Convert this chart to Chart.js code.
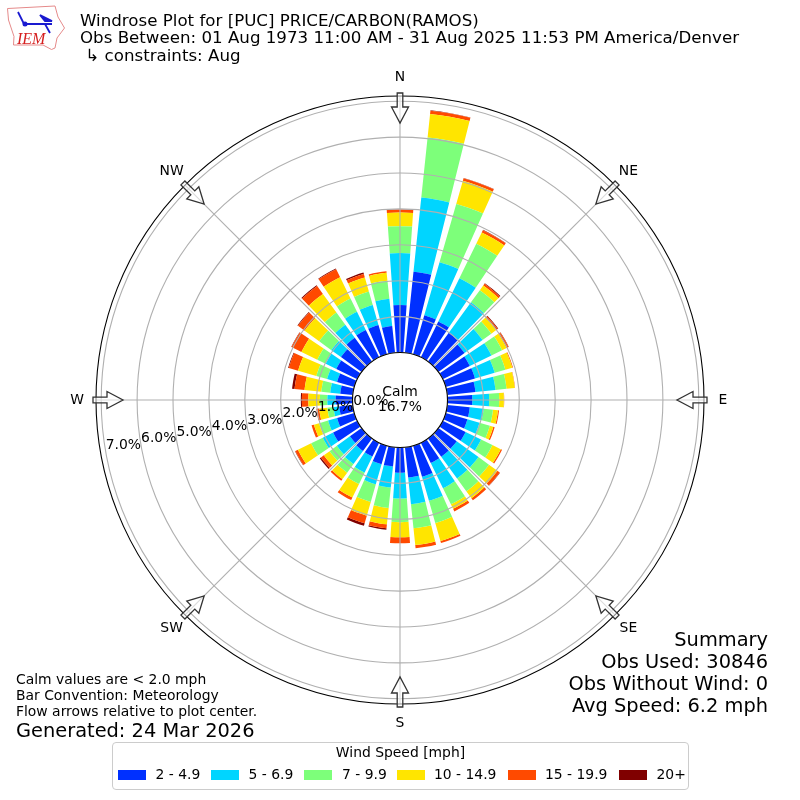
<!DOCTYPE html>
<html lang="en">
<head>
  <meta charset="UTF-8" />
  <title>Windrose Plot for [PUC] PRICE/CARBON(RAMOS)</title>
  <style>
    html, body {
      margin: 0;
      padding: 0;
      background: #fff;
    }
    body {
      position: relative;
      width: 800px;
      height: 800px;
      overflow: hidden;
      font-family: "DejaVu Sans", sans-serif;
      color: #000;
    }
    canvas {
      position: absolute;
      left: 0;
      top: 0;
    }
    .txt {
      position: absolute;
      white-space: pre;
      line-height: 1;
    }
    #logo {
      position: absolute;
      left: 0;
      top: 0;
    }
    #legend {
      position: absolute;
      left: 112px;
      top: 742px;
      width: 575px;
      height: 46px;
      border: 1px solid #ccc;
      border-radius: 4px;
      background: #fff;
    }
    #legend span {
      position: absolute;
      white-space: pre;
      line-height: 1;
    }
  </style>
</head>
<body>
  <canvas id="rose" width="800" height="800"></canvas>

  <svg id="logo" width="70" height="55" viewBox="0 0 70 55">
    <path d="M7.5 8.5 L55 6 L58 17 L64.5 28 L57 38 L55 48 L51.5 49.5 L43 45 L13.5 45 L14 36.5 L8.5 20 Z" fill="none" stroke="#e58a8a" stroke-width="1"/>
    <path d="M25 24 H52 M40 15 L52 21 L45 21 Z M18 12 L24 24 M45 24 L50 33" stroke="#1a1ad0" stroke-width="1.8" fill="#1a1ad0"/>
    <circle cx="25" cy="24" r="2.5" fill="#1a1ad0"/>
    <text x="17" y="44" font-family="Liberation Serif" font-style="italic" font-size="16" fill="#d62020">IEM</text>
  </svg>

  <div class="txt" style="left:80px;top:13px;font-size:16.67px">Windrose Plot for [PUC] PRICE/CARBON(RAMOS)</div>
  <div class="txt" style="left:80px;top:30px;font-size:16.67px">Obs Between: 01 Aug 1973 11:00 AM - 31 Aug 2025 11:53 PM America/Denver</div>
  <div class="txt" style="left:80px;top:48px;font-size:16.67px"> ↳ constraints: Aug</div>

  <div class="txt" style="left:16px;top:673px;font-size:13.9px">Calm values are &lt; 2.0 mph</div>
  <div class="txt" style="left:16px;top:689px;font-size:13.9px">Bar Convention: Meteorology</div>
  <div class="txt" style="left:16px;top:705px;font-size:13.9px">Flow arrows relative to plot center.</div>
  <div class="txt" style="left:16px;top:721px;font-size:19.4px">Generated: 24 Mar 2026</div>

  <div class="txt" style="right:32px;top:630px;font-size:19.4px">Summary</div>
  <div class="txt" style="right:32px;top:652px;font-size:19.4px">Obs Used: 30846</div>
  <div class="txt" style="right:32px;top:674px;font-size:19.4px">Obs Without Wind: 0</div>
  <div class="txt" style="right:32px;top:696px;font-size:19.4px">Avg Speed: 6.2 mph</div>

  <div id="legend"></div>

  <script src="https://cdn.jsdelivr.net/npm/chart.js"></script>
  <script>
    const directions = [0, 10, 20, 30, 40, 50, 60, 70, 80, 90, 100, 110, 120, 130, 140, 150, 160, 170,
      180, 190, 200, 210, 220, 230, 240, 250, 260, 270, 280, 290, 300, 310, 320, 330, 340, 350];
    const speedBins = ['2 - 4.9', '5 - 6.9', '7 - 9.9', '10 - 14.9', '15 - 19.9', '20+'];
    const binColors = ['#0030ff', '#00d5ff', '#7dff7a', '#ffe500', '#ff4a00', '#800000'];
    const compassLabels = ['N', 'NE', 'E', 'SE', 'S', 'SW', 'W', 'NW'];
    const compassDegrees = [0, 45, 90, 135, 180, 225, 270, 315];
    const ringTicks = [0, 1, 2, 3, 4, 5, 6, 7];
    const calmLabel = ['Calm', '16.7%'];

    // frequency [%] per direction, one list per speed bin
    const speed2to5 = [1.32, 2.27, 1.13, 1.11, .99, .90, .84, .85, .79, .69, .63, .63, .71, .63, .63, .63, .90, .85,
      .70, .54, .54, .43, .43, .40, .75, .50, .38, .47, .35, .50, .65, .71, .82, .85, .85, .75];
    const speed5to7 = [1.45, 2.08, 1.54, 1.34, 1.05, .62, .67, .57, .56, .47, .39, .35, .48, .75, .75, .78, .70, .75,
      .72, .59, .58, .50, .45, .45, .32, .26, .16, .23, .28, .29, .33, .33, .45, .56, .58, .76];
    const speed7to10 = [.75, 1.68, 1.69, 1.07, .42, .30, .33, .31, .31, .28, .26, .30, .35, .36, .44, .50, .64, .67,
      .66, .57, .51, .35, .30, .25, .36, .26, .17, .21, .25, .31, .26, .42, .42, .41, .39, .51];
    const speed10to15 = [.38, .66, .67, .35, .16, .17, .14, .20, .23, .13, .14, .10, .26, .29, .24, .14, .52, .47,
      .42, .46, .40, .42, .22, .20, .41, .15, .23, .32, .47, .53, .49, .50, .64, .66, .41, .22];
    const speed15to20 = [.08, .09, .07, .07, .06, .05, .06, .02, .01, .01, .03, .04, .04, .08, .07, .08, .06, .09,
      .17, .11, .22, .08, .06, .10, .08, .07, .08, .18, .28, .27, .31, .23, .27, .25, .10, .04];
    const speed20up = [.01, .01, .01, .01, .02, .02, .01, 0, 0, 0, 0, 0, 0, .01, 0, 0, 0, 0,
      0, .04, .07, 0, 0, .04, .01, 0, 0, .03, .07, .02, .01, .02, .03, .02, .04, 0];
    const speedSeries = [speed2to5, speed5to7, speed7to10, speed10to15, speed15to20, speed20up];

    const BAR_WIDTH = 8 * Math.PI / 180;
    const FONT = '"DejaVu Sans", sans-serif';
    const GRID = '#b0b0b0';

    // polar area stacks nothing by itself, so each arc starts where the lower bins end
    class WindroseController extends Chart.PolarAreaController {
      updateElements(arcs, start, count, mode) {
        const scale = this._cachedMeta.rScale;
        const lower = this.chart.data.datasets.slice(0, this.index);
        for (let i = start; i < start + count; i++) {
          const base = lower.reduce((sum, ds) => sum + ds.data[i], 0);
          const value = this.getDataset().data[i];
          const mid = (directions[i] - 90) * Math.PI / 180;
          this.updateElement(arcs[i], i, {
            x: scale.xCenter,
            y: scale.yCenter,
            innerRadius: scale.getDistanceFromCenterForValue(base),
            outerRadius: scale.getDistanceFromCenterForValue(base + value),
            startAngle: mid - BAR_WIDTH / 2,
            endAngle: mid + BAR_WIDTH / 2,
            options: this.resolveDataElementOptions(i, mode)
          }, mode);
        }
      }
    }
    WindroseController.id = 'windrose';
    Chart.register(WindroseController);

    // pixel position for a compass bearing and a distance from the center
    function polar(scale, degrees, dist) {
      const a = degrees * Math.PI / 180;
      return { x: scale.xCenter + dist * Math.sin(a), y: scale.yCenter - dist * Math.cos(a) };
    }

    // one arrow pointing at the center, lengths in pixels from the center
    function drawArrow(ctx, scale, degrees) {
      ctx.save();
      ctx.translate(scale.xCenter, scale.yCenter);
      ctx.rotate(degrees * Math.PI / 180);
      ctx.beginPath();
      ctx.moveTo(-2.8, -307);
      ctx.lineTo(2.8, -307);
      ctx.lineTo(2.8, -293);
      ctx.lineTo(8.5, -293);
      ctx.lineTo(0, -277);
      ctx.lineTo(-8.5, -293);
      ctx.lineTo(-2.8, -293);
      ctx.closePath();
      ctx.fillStyle = 'rgba(255,255,255,0.55)';
      ctx.fill();
      ctx.strokeStyle = '#333';
      ctx.lineWidth = 1.3;
      ctx.stroke();
      ctx.restore();
    }

    const roseDecor = {
      id: 'roseDecor',
      afterDatasetsDraw(chart) {
        // spokes every 45 degrees, the 36 labels of the scale cannot give these
        const ctx = chart.ctx;
        const scale = chart.scales.r;
        ctx.save();
        ctx.strokeStyle = GRID;
        ctx.lineWidth = 1.1;
        compassDegrees.forEach(deg => {
          const p = polar(scale, deg, scale.drawingArea);
          ctx.beginPath();
          ctx.moveTo(scale.xCenter, scale.yCenter);
          ctx.lineTo(p.x, p.y);
          ctx.stroke();
        });
        ctx.restore();
      },
      afterDraw(chart) {
        const ctx = chart.ctx;
        const scale = chart.scales.r;
        const cx = scale.xCenter;
        const cy = scale.yCenter;

        // calm hole and outer frame
        ctx.save();
        ctx.beginPath();
        ctx.arc(cx, cy, scale.getDistanceFromCenterForValue(0), 0, Math.PI * 2);
        ctx.fillStyle = '#fff';
        ctx.fill();
        ctx.strokeStyle = '#000';
        ctx.lineWidth = 1.1;
        ctx.stroke();
        ctx.beginPath();
        ctx.arc(cx, cy, scale.drawingArea, 0, Math.PI * 2);
        ctx.stroke();
        ctx.restore();

        compassDegrees.forEach(deg => drawArrow(ctx, scale, deg));

        ctx.save();
        ctx.fillStyle = '#000';
        ctx.font = '13.9px ' + FONT;
        ctx.textAlign = 'center';
        ctx.textBaseline = 'middle';
        compassLabels.forEach((label, i) => {
          const p = polar(scale, compassDegrees[i], 323);
          ctx.fillText(label, p.x, p.y);
        });
        ctx.fillText(calmLabel[0], cx, cy - 8);
        ctx.fillText(calmLabel[1], cx, cy + 7);

        // ring labels run along 260 degrees
        ctx.textAlign = 'left';
        ctx.textBaseline = 'bottom';
        ringTicks.forEach(v => {
          const p = polar(scale, 260, scale.getDistanceFromCenterForValue(v));
          ctx.fillText(v.toFixed(1) + '%', p.x, p.y);
        });
        ctx.restore();
      }
    };

    new Chart(document.getElementById('rose').getContext('2d'), {
      type: 'windrose',
      data: {
        labels: directions,
        datasets: speedSeries.map((values, i) => ({
          label: speedBins[i],
          data: values,
          backgroundColor: binColors[i],
          borderWidth: 0
        }))
      },
      options: {
        responsive: false,
        animation: false,
        devicePixelRatio: 1,
        layout: { padding: 96 },
        plugins: {
          legend: { display: false },
          tooltip: { enabled: false }
        },
        scales: {
          r: {
            type: 'radialLinear',
            min: -1.323,
            max: 7.145,
            afterBuildTicks: scale => {
              scale.ticks = ringTicks.map(v => ({ value: v }));
            },
            ticks: { display: false },
            pointLabels: { display: false },
            grid: { circular: true, color: GRID, lineWidth: 1.1, z: 1 },
            angleLines: { display: false }
          }
        }
      },
      plugins: [roseDecor]
    });

    // legend box
    const legend = document.getElementById('legend');
    const swatchLeft = [5, 97.5, 191, 283.5, 395, 505.5];
    const textLeft = [42.5, 135.5, 229, 321, 432, 543.5];
    const head = document.createElement('span');
    head.textContent = 'Wind Speed [mph]';
    head.style.cssText = 'left:0;width:100%;text-align:center;top:3px;font-size:13.9px;';
    legend.appendChild(head);
    speedBins.forEach((label, i) => {
      const swatch = document.createElement('span');
      swatch.style.cssText = 'left:' + swatchLeft[i] + 'px;top:27px;width:28px;height:10px;background:' + binColors[i] + ';';
      legend.appendChild(swatch);
      const text = document.createElement('span');
      text.textContent = label;
      text.style.cssText = 'left:' + textLeft[i] + 'px;top:25px;font-size:13.9px;';
      legend.appendChild(text);
    });
  </script>
</body>
</html>
